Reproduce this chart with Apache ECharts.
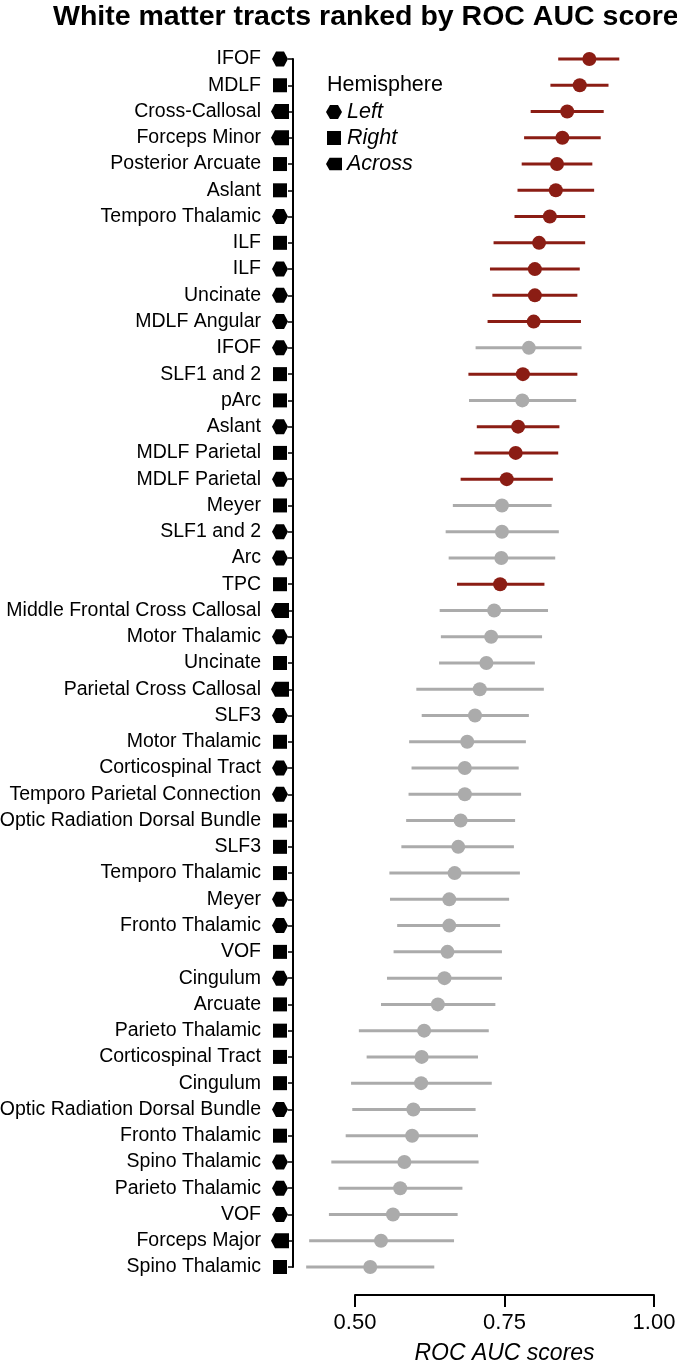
<!DOCTYPE html>
<html><head><meta charset="utf-8">
<script src="https://cdn.jsdelivr.net/npm/echarts@6/dist/echarts.min.js"></script>
<style>html,body{margin:0;padding:0;background:#fff}#c{width:677px;height:1363px}</style>
</head><body><div id="c"></div>
<script>
const categories = ['IFOF','MDLF','Cross-Callosal','Forceps Minor','Posterior Arcuate','Aslant','Temporo Thalamic','ILF','ILF','Uncinate','MDLF Angular','IFOF','SLF1 and 2','pArc','Aslant','MDLF Parietal','MDLF Parietal','Meyer','SLF1 and 2','Arc','TPC','Middle Frontal Cross Callosal','Motor Thalamic','Uncinate','Parietal Cross Callosal','SLF3','Motor Thalamic','Corticospinal Tract','Temporo Parietal Connection','Optic Radiation Dorsal Bundle','SLF3','Temporo Thalamic','Meyer','Fronto Thalamic','VOF','Cingulum','Arcuate','Parieto Thalamic','Corticospinal Tract','Cingulum','Optic Radiation Dorsal Bundle','Fronto Thalamic','Spino Thalamic','Parieto Thalamic','VOF','Forceps Major','Spino Thalamic'];
const hemisphere = ['Left','Right','Across','Across','Right','Right','Left','Right','Left','Left','Left','Left','Right','Right','Left','Right','Left','Right','Left','Left','Right','Across','Left','Right','Across','Left','Right','Left','Left','Right','Right','Right','Left','Left','Right','Left','Right','Right','Right','Right','Left','Right','Left','Left','Left','Across','Right'];
const auc = [0.892,0.876,0.855,0.847,0.838,0.836,0.826,0.808,0.801,0.801,0.799,0.791,0.781,0.780,0.773,0.769,0.754,0.746,0.746,0.745,0.743,0.733,0.728,0.720,0.709,0.701,0.688,0.684,0.684,0.677,0.673,0.667,0.658,0.658,0.655,0.650,0.639,0.616,0.612,0.611,0.598,0.596,0.583,0.576,0.564,0.544,0.526];
const lower = [0.840,0.827,0.794,0.783,0.779,0.772,0.767,0.732,0.726,0.730,0.722,0.702,0.690,0.691,0.704,0.700,0.677,0.664,0.652,0.657,0.671,0.642,0.644,0.641,0.603,0.612,0.591,0.595,0.590,0.586,0.578,0.558,0.559,0.571,0.565,0.554,0.544,0.507,0.520,0.494,0.496,0.485,0.461,0.473,0.457,0.424,0.419];
const upper = [0.942,0.924,0.916,0.911,0.897,0.900,0.885,0.885,0.876,0.872,0.878,0.879,0.872,0.870,0.842,0.840,0.831,0.829,0.841,0.835,0.817,0.823,0.813,0.801,0.816,0.791,0.786,0.774,0.778,0.768,0.766,0.776,0.758,0.743,0.746,0.746,0.735,0.724,0.706,0.729,0.702,0.706,0.707,0.680,0.672,0.666,0.633];
const significant = [1,1,1,1,1,1,1,1,1,1,1,0,1,0,1,1,1,0,0,0,1,0,0,0,0,0,0,0,0,0,0,0,0,0,0,0,0,0,0,0,0,0,0,0,0,0,0];
const xTicks = [0.50, 0.75, 1.00];
const hemiNames = ['Left','Right','Across'];

const RED = '#8b1d14', GRAY = '#ababab';
const FONT = 'Liberation Sans, Arial, Helvetica, sans-serif';
const symbols = {
  Left: 'path://M0,7 L4,0 L12,0 L16,7 L12,14 L4,14 Z',
  Right: 'path://M0,0 L14,0 L14,14 L0,14 Z',
  Across: 'path://M0,7 L4,0 L18,0 L18,14 L4,14 Z'
};
const symSize = { Left: [16,15], Right: [14,14], Across: [18,15] };

const chart = echarts.init(document.getElementById('c'), null, {renderer:'canvas'});
const GT = 59, GH = 1208;
const yCat = (gi, show) => ({
  type:'category', gridIndex:gi, data:categories, inverse:true, boundaryGap:false,
  axisLine:{show:show, lineStyle:{color:'#000', width:2}},
  axisTick:{show:show, length:5, lineStyle:{color:'#000', width:1.5}},
  axisLabel:{show:show, interval:0, margin:32, color:'#000', fontSize:19.5, fontFamily:FONT},
  splitLine:{show:false}
});

const hemiSeries = hemiNames.map(h => ({
  name:h, type:'scatter', xAxisIndex:2, yAxisIndex:2,
  symbol:symbols[h], symbolSize:symSize[h],
  itemStyle:{color:'#000', opacity:1}, silent:true,
  data: hemisphere.map((v,i)=> v===h ? [0.5, i] : null).filter(d=>d)
}));

chart.setOption({
  animation:false,
  title:{text:'White matter tracts ranked by ROC AUC score', left:53, top:3, padding:0,
    textStyle:{fontSize:28.5, fontWeight:'bold', color:'#000', fontFamily:FONT}},
  legend:{orient:'vertical', left:326, top:101, padding:0, itemWidth:16, itemHeight:14, itemGap:4,
    textStyle:{fontSize:21.5, fontStyle:'italic', color:'#000', fontFamily:FONT, lineHeight:22},
    data: hemiNames.map(h=>({name:h, icon:symbols[h], itemStyle:{color:'#000', opacity:1}})),
    selectedMode:false},
  graphic:[{type:'text', left:327, top:74, style:{text:'Hemisphere', fontSize:21.5, fill:'#000', fontFamily:FONT}}],
  grid:[
    {left:293, right:23, top:GT, height:GH, containLabel:false, outerBoundsMode:'none'},
    {left:355, right:23, top:1294, height:1, containLabel:false, outerBoundsMode:'none'},
    {left:270, width:20, top:GT, height:GH, containLabel:false, outerBoundsMode:'none'}
  ],
  xAxis:[
    {type:'value', gridIndex:0, min:0.397, max:1.0, show:false},
    {type:'value', gridIndex:1, min:0.5, max:1.0, interval:0.25,
      axisLine:{show:true, lineStyle:{color:'#000', width:2}},
      axisTick:{show:true, length:12, lineStyle:{color:'#000', width:2}},
      axisLabel:{color:'#000', fontSize:22, fontFamily:FONT, margin:17,
        formatter:v=> xTicks.some(t=>Math.abs(t-v)<1e-9) ? v.toFixed(2) : ''},
      splitLine:{show:false},
      name:'ROC AUC scores', nameLocation:'middle', nameGap:47,
      nameTextStyle:{fontSize:23, fontStyle:'italic', color:'#000', fontFamily:FONT}},
    {type:'value', gridIndex:2, min:0, max:1, show:false}
  ],
  yAxis:[ yCat(0,true), {type:'value', gridIndex:1, show:false}, yCat(2,false) ],
  series:[
    {type:'custom', xAxisIndex:0, yAxisIndex:0, silent:true,
      data: categories.map((c,i)=>[lower[i], upper[i], i, significant[i]]),
      encode:{x:[0,1], y:2},
      renderItem:(params, api)=>{
        const a = api.coord([api.value(0), api.value(2)]);
        const b = api.coord([api.value(1), api.value(2)]);
        return {type:'line', shape:{x1:a[0], y1:a[1], x2:b[0], y2:b[1]},
          style:{stroke: api.value(3) ? RED : GRAY, lineWidth:3}};
      }},
    {type:'scatter', xAxisIndex:0, yAxisIndex:0, symbol:'circle', symbolSize:14, silent:true,
      data: categories.map((c,i)=>({value:[auc[i], i], itemStyle:{color: significant[i] ? RED : GRAY, opacity:1}}))},
    ...hemiSeries
  ]
});
</script></body></html>
